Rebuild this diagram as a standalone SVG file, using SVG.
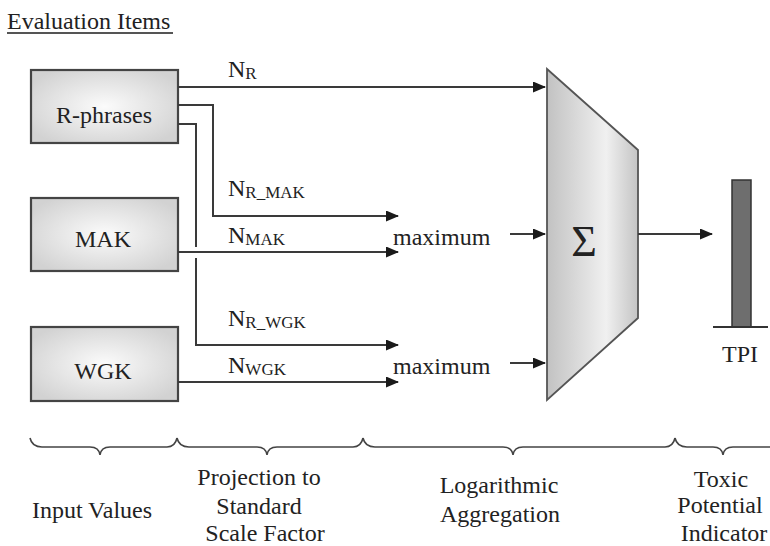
<svg xmlns="http://www.w3.org/2000/svg" width="770" height="546" viewBox="0 0 770 546">
<defs>
<radialGradient id="boxg" cx="0.5" cy="0.5" r="0.6">
<stop offset="0" stop-color="#fbfbfb"/>
<stop offset="1" stop-color="#d2d2d2"/>
</radialGradient>
<linearGradient id="trapg" x1="0" y1="0" x2="1" y2="0">
<stop offset="0" stop-color="#c2c2c2"/>
<stop offset="0.65" stop-color="#f0f0f0"/>
<stop offset="1" stop-color="#c4c4c4"/>
</linearGradient>
<marker id="ah" markerUnits="userSpaceOnUse" markerWidth="13" markerHeight="11" refX="12" refY="5.5" orient="auto">
<path d="M0,0 L13,5.5 L0,11 Z" fill="#1a1a1a"/>
</marker>
<style>
text{font-family:"Liberation Serif","Tinos","Times New Roman","Times","Noto Serif","DejaVu Serif","FreeSerif","Georgia",serif;fill:#222;}
.t{font-size:24px;}
.sub{font-size:17px;}
.box{fill:url(#boxg);stroke:#444;stroke-width:2.2;}
.ln{fill:none;stroke:#3a3a3a;stroke-width:2;}
.br{fill:none;stroke:#444;stroke-width:1.6;}
</style>
</defs>
<rect width="770" height="546" fill="#fff"/>

<g id="title">
<text class="t" x="7" y="29">Evaluation Items</text>
<line x1="7" y1="33" x2="173" y2="33" stroke="#555" stroke-width="2"/>
</g>

<g id="r-phrases">
<rect class="box" x="31" y="70" width="147" height="73"/>
<text class="t" x="104" y="123" text-anchor="middle">R-phrases</text>
</g>
<g id="mak">
<rect class="box" x="31" y="198" width="147" height="73"/>
<text class="t" x="103" y="247" text-anchor="middle">MAK</text>
</g>
<g id="wgk">
<rect class="box" x="31" y="327" width="147" height="74"/>
<text class="t" x="103" y="379" text-anchor="middle">WGK</text>
</g>

<g id="maximum1"><text class="t" x="393" y="245">maximum</text></g>
<g id="maximum2"><text class="t" x="393" y="374">maximum</text></g>

<g id="sum">
<path d="M547,69 L638,150 L638,318 L547,400 Z" fill="url(#trapg)" stroke="#555" stroke-width="1.8"/>
<text x="584" y="256" font-size="44" text-anchor="middle">Σ</text>
</g>

<g id="tpi">
<rect x="732" y="180" width="19" height="147" fill="#6e6e6e" stroke="#333" stroke-width="1.5"/>
<line x1="713" y1="327" x2="768" y2="327" stroke="#333" stroke-width="1.8"/>
<text class="t" x="740" y="362" text-anchor="middle">TPI</text>
</g>

<g id="connectors">
<path class="ln" d="M178,87 H545" marker-end="url(#ah)"/>
<path class="ln" d="M178,105 H213 V216 H398" marker-end="url(#ah)"/>
<path class="ln" d="M178,124 H196 V247"/>
<path class="ln" d="M196,258 V345 H398" marker-end="url(#ah)"/>
<path class="ln" d="M178,252 H398" marker-end="url(#ah)"/>
<path class="ln" d="M178,382 H398" marker-end="url(#ah)"/>
<path class="ln" d="M510,234 H545" marker-end="url(#ah)"/>
<path class="ln" d="M510,363 H545" marker-end="url(#ah)"/>
<path class="ln" d="M638,234 H712" marker-end="url(#ah)"/>
</g>

<g id="connector-labels">
<text class="t" x="228" y="77">N<tspan class="sub" dy="2">R</tspan></text>
<text class="t" x="228" y="196">N<tspan class="sub" dy="2">R_MAK</tspan></text>
<text class="t" x="228" y="243">N<tspan class="sub" dy="2">MAK</tspan></text>
<text class="t" x="228" y="326">N<tspan class="sub" dy="2">R_WGK</tspan></text>
<text class="t" x="228" y="373">N<tspan class="sub" dy="2">WGK</tspan></text>
</g>

<g id="braces">
<path class="br" d="M30,438 Q32,447 42,447 H90 Q99,447 100,455 Q101,447 110,447 H167 Q175,447 177,438"/>
<path class="br" d="M177,438 Q179,447 189,447 H257 Q266,447 267,455 Q268,447 277,447 H353 Q361,447 363,438"/>
<path class="br" d="M363,438 Q365,447 375,447 H503 Q512,447 513,455 Q514,447 523,447 H665 Q673,447 675,438"/>
<path class="br" d="M675,438 Q677,447 687,447 H713 Q722,447 723,455 Q724,447 733,447 H775"/>
</g>

<g id="stage-labels">
<text class="t" x="92" y="518" text-anchor="middle">Input Values</text>
<text class="t" x="259" y="485" text-anchor="middle">Projection to</text>
<text class="t" x="259" y="514" text-anchor="middle">Standard</text>
<text class="t" x="265" y="541" text-anchor="middle">Scale Factor</text>
<text class="t" x="499" y="493" text-anchor="middle">Logarithmic</text>
<text class="t" x="500" y="522" text-anchor="middle">Aggregation</text>
<text class="t" x="721" y="487" text-anchor="middle">Toxic</text>
<text class="t" x="720" y="513" text-anchor="middle">Potential</text>
<text class="t" x="724" y="541" text-anchor="middle">Indicator</text>
</g>
</svg>
